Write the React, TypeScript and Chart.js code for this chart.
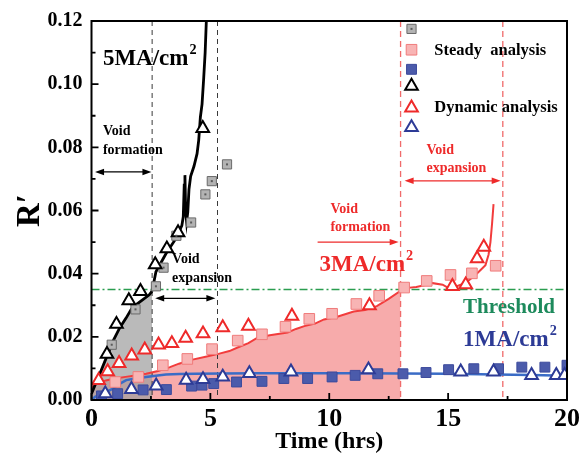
import React, { useEffect, useRef } from 'react';
import { Chart, registerables } from 'chart.js';
import { drawPoint } from 'chart.js/helpers';

Chart.register(...registerables);

const SERIF = "'Liberation Serif', 'Times New Roman', serif";

// ---- axes ----
const xTickValues = [0, 5, 10, 15, 20];
const yTickValues = [0, 0.02, 0.04, 0.06, 0.08, 0.1, 0.12];
const threshold = 0.035;

// stage boundaries (hrs)
const voidFormationEnd5MA = 2.55;
const voidExpansionEnd5MA = 5.3;
const voidFormationEnd3MA = 13.0;
const voidExpansionEnd3MA = 17.3;

// ---- 5 MA/cm2 ----
const t5Line = [0, 0.35, 0.63, 0.91, 1.19, 1.46, 1.67, 1.88, 2.16, 2.43, 2.55, 2.71, 3.13, 3.54, 3.8, 3.86, 3.9, 3.93, 3.96, 4.0, 4.05, 4.1, 4.17, 4.31, 4.44, 4.51, 4.58, 4.65, 4.72, 4.78, 4.83];
const r5Line = [0.002, 0.0083, 0.0135, 0.0187, 0.0229, 0.026, 0.0287, 0.0302, 0.0318, 0.0333, 0.0345, 0.0406, 0.0463, 0.051, 0.0552, 0.058, 0.068, 0.0712, 0.06, 0.0565, 0.0595, 0.0667, 0.0708, 0.074, 0.078, 0.0823, 0.0896, 0.0937, 0.102, 0.11, 0.12];
const t5Steady = [0.85, 1.85, 2.71, 3.03, 3.57, 4.19, 4.79, 5.06, 5.7];
const r5Steady = [0.0175, 0.0287, 0.036, 0.0419, 0.052, 0.0562, 0.0651, 0.0693, 0.0746];
const t5Dynamic = [0.65, 1.05, 1.57, 2.06, 2.68, 3.17, 3.64, 4.68];
const r5Dynamic = [0.0145, 0.024, 0.0315, 0.0344, 0.0429, 0.0479, 0.053, 0.086];

// ---- 3 MA/cm2 ----
const t3Line = [0, 0.2, 0.6, 1.0, 1.5, 2.0, 2.3, 2.8, 3.3, 3.68, 4.2, 4.8, 5.34, 5.8, 6.17, 6.6, 7.0, 7.5, 8.25, 8.6, 8.95, 9.4, 9.78, 10.3, 11.03, 11.5, 12.0, 12.5, 13.0, 13.3, 13.66, 14.0, 14.35, 14.77, 15.0, 15.18, 15.35, 15.53, 15.8, 16.15, 16.29, 16.57, 16.7, 16.78, 16.85, 16.91];
const r3Line = [0.004, 0.0052, 0.0062, 0.0068, 0.0074, 0.0079, 0.0083, 0.0092, 0.0104, 0.0115, 0.0127, 0.0137, 0.0146, 0.0155, 0.0167, 0.018, 0.0198, 0.0205, 0.0214, 0.0225, 0.0234, 0.0242, 0.0255, 0.0263, 0.028, 0.0285, 0.0297, 0.032, 0.0346, 0.0355, 0.0358, 0.0363, 0.037, 0.0365, 0.0355, 0.0349, 0.036, 0.0365, 0.0375, 0.0396, 0.0406, 0.0427, 0.046, 0.05, 0.056, 0.062];
const t3Steady = [1.0, 1.97, 3.0, 4.03, 5.07, 6.15, 7.17, 8.16, 9.16, 10.12, 11.14, 12.1, 13.15, 14.1, 15.1, 16.0, 17.0];
const r3Steady = [0.0057, 0.0073, 0.011, 0.013, 0.0161, 0.0188, 0.0208, 0.0232, 0.0257, 0.0273, 0.0304, 0.033, 0.0356, 0.0377, 0.0396, 0.0401, 0.0425];
const t3Dynamic = [0.3, 0.68, 1.16, 1.69, 2.24, 2.82, 3.38, 3.96, 4.69, 5.52, 6.6, 8.43, 11.69, 15.18, 15.74, 16.22, 16.5];
const r3Dynamic = [0.0062, 0.009, 0.0116, 0.014, 0.0159, 0.0175, 0.0179, 0.0196, 0.021, 0.0229, 0.0234, 0.0266, 0.0299, 0.036, 0.0365, 0.0448, 0.0484];

// ---- 1 MA/cm2 ----
const t1Line = [0, 0.15, 0.5, 0.91, 1.2, 1.46, 1.9, 2.3, 2.7, 3.13, 3.7, 4.37, 5.5, 7.0, 9.0, 11.0, 13.0, 15.0, 17.0, 18.5, 20];
const r1Line = [0, 0.001, 0.0022, 0.0036, 0.0052, 0.0063, 0.0069, 0.0073, 0.0077, 0.0081, 0.0082, 0.0083, 0.0084, 0.0085, 0.0085, 0.0085, 0.0084, 0.0083, 0.0081, 0.0079, 0.0077];
const t1Steady = [0.42, 1.1, 2.17, 3.15, 4.21, 4.65, 5.14, 6.1, 7.17, 8.09, 9.09, 10.12, 11.09, 12.04, 13.1, 14.07, 15.02, 16.08, 17.12, 18.1, 19.07, 20.0];
const r1Steady = [0.0013, 0.002, 0.0032, 0.0033, 0.0044, 0.0047, 0.0052, 0.0057, 0.0059, 0.0068, 0.0068, 0.0073, 0.0078, 0.0083, 0.0083, 0.0087, 0.0096, 0.0099, 0.0099, 0.0104, 0.0104, 0.011];
const t1Dynamic = [0.58, 1.68, 2.72, 3.98, 4.69, 5.52, 6.64, 8.39, 11.65, 15.53, 16.91, 18.51, 19.55, 19.9];
const r1Dynamic = [0.002, 0.0034, 0.0045, 0.0063, 0.0065, 0.0073, 0.0084, 0.0089, 0.0096, 0.0089, 0.0089, 0.0078, 0.0078, 0.0078];

// ---- colours ----
const BLACK = '#000000';
const RED = '#ee2a2a';
const RED_LINE = '#f23c3c';
const PINK_FILL = '#f7abab';
const GRAY_FILL = 'rgba(160,160,160,0.72)';
const BLUE_LINE = '#3a6cc6';
const BLUE_DARK = '#2d3b96';
const GREEN = '#2a9d4f';
const GREEN_TEXT = '#1d8a5c';

const pts = (xs: number[], ys: number[]) => xs.map((x, i) => ({ x, y: ys[i] }));
const TRANSPARENT = 'rgba(0,0,0,0)';

const grayStyle = { pointStyle: 'rect', radius: 6.5, bg: '#b3b3b3', border: '#6a6a6a', bw: 1 };
const pinkStyle = { pointStyle: 'rect', radius: 7.5, bg: '#f8b4b4', border: '#f07c7c', bw: 1 };
const blueSqStyle = { pointStyle: 'rect', radius: 7, bg: '#4b5bab', border: '#3c4a9c', bw: 1 };
const blackTriStyle = { pointStyle: 'triangle', radius: 7.3, bg: '#ffffff', border: BLACK, bw: 2 };
const redTriStyle = { pointStyle: 'triangle', radius: 7.3, bg: '#ffffff', border: RED, bw: 2 };
const blueTriStyle = { pointStyle: 'triangle', radius: 7.3, bg: '#ffffff', border: BLUE_DARK, bw: 2 };

const markerSet = (label: string, data: any[], s: any, order: number) => ({
  label,
  data,
  showLine: false,
  pointStyle: s.pointStyle,
  pointRadius: s.radius,
  pointBackgroundColor: s.bg,
  pointBorderColor: s.border,
  pointBorderWidth: s.bw,
  order,
});

function font(size: number) {
  return `bold ${size}px ${SERIF}`;
}

function label(ctx: CanvasRenderingContext2D, str: string, x: number, y: number, size: number, color: string) {
  ctx.font = font(size);
  ctx.fillStyle = color;
  ctx.textAlign = 'left';
  ctx.textBaseline = 'middle';
  ctx.fillText(str, x, y);
}

// current-density label with superscript 2
function densityLabel(ctx: CanvasRenderingContext2D, base: string, x: number, y: number, size: number, color: string) {
  label(ctx, base, x, y, size, color);
  const w = ctx.measureText(base).width;
  label(ctx, '2', x + w + 1, y - size * 0.38, size * 0.62, color);
}

function arrow(ctx: CanvasRenderingContext2D, x1: number, x2: number, y: number, color: string, both: boolean) {
  ctx.strokeStyle = color;
  ctx.fillStyle = color;
  ctx.lineWidth = 1.2;
  ctx.setLineDash([]);
  ctx.beginPath();
  ctx.moveTo(x1 + (both ? 4 : 0), y);
  ctx.lineTo(x2 - 4, y);
  ctx.stroke();
  const head = (tip: number, dir: number) => {
    ctx.beginPath();
    ctx.moveTo(tip, y);
    ctx.lineTo(tip - dir * 9, y - 3.2);
    ctx.lineTo(tip - dir * 9, y + 3.2);
    ctx.closePath();
    ctx.fill();
  };
  head(x2, 1);
  if (both) head(x1, -1);
}

const decorations = {
  id: 'decorations',
  beforeDatasetsDraw(chart: any) {
    const { ctx, chartArea: a, scales } = chart;
    const xs = scales.x;
    const ys = scales.y;
    ctx.save();
    const vline = (v: number, color: string, dash: number[], lw: number) => {
      const px = xs.getPixelForValue(v);
      ctx.strokeStyle = color;
      ctx.lineWidth = lw;
      ctx.setLineDash(dash);
      ctx.beginPath();
      ctx.moveTo(px, a.top);
      ctx.lineTo(px, a.bottom);
      ctx.stroke();
    };
    vline(voidFormationEnd5MA, '#3a3a3a', [5, 4], 1);
    vline(voidExpansionEnd5MA, '#3a3a3a', [5, 4], 1);
    vline(voidFormationEnd3MA, '#f06a6a', [6, 4], 1.3);
    vline(voidExpansionEnd3MA, '#f06a6a', [6, 4], 1.3);

    // threshold
    const ty = ys.getPixelForValue(threshold);
    ctx.strokeStyle = GREEN;
    ctx.lineWidth = 1.5;
    ctx.setLineDash([8, 3, 2, 3]);
    ctx.beginPath();
    ctx.moveTo(a.left, ty);
    ctx.lineTo(a.right, ty);
    ctx.stroke();
    ctx.restore();
  },
  afterDatasetsDraw(chart: any) {
    const { ctx, scales } = chart;
    const X = (v: number) => scales.x.getPixelForValue(v);
    const Y = (v: number) => scales.y.getPixelForValue(v);
    ctx.save();

    // centre dot on the 5 MA/cm2 steady markers
    const meta = chart.getDatasetMeta(3);
    ctx.fillStyle = '#5a5a5a';
    meta.data.forEach((el: any) => ctx.fillRect(el.x - 1, el.y - 1, 2, 2));

    // current density labels
    densityLabel(ctx, '5MA/cm', X(0.48), Y(0.108), 23, BLACK);
    densityLabel(ctx, '3MA/cm', X(9.59), Y(0.0428), 23, RED);
    densityLabel(ctx, '1MA/cm', X(15.63), Y(0.0191), 23, BLUE_DARK);
    label(ctx, 'Threshold', X(15.63), Y(0.0294), 21, GREEN_TEXT);

    // stage annotations, 5 MA/cm2
    label(ctx, 'Void', X(0.48), Y(0.085), 14, BLACK);
    label(ctx, 'formation', X(0.48), Y(0.079), 14, BLACK);
    arrow(ctx, X(0.15), X(2.52), Y(0.0722), BLACK, true);
    label(ctx, 'Void', X(3.39), Y(0.0444), 14, BLACK);
    label(ctx, 'expansion', X(3.39), Y(0.0384), 14, BLACK);
    arrow(ctx, X(2.68), X(5.21), Y(0.0322), BLACK, true);

    // stage annotations, 3 MA/cm2
    label(ctx, 'Void', X(10.05), Y(0.0603), 14, RED);
    label(ctx, 'formation', X(10.05), Y(0.0547), 14, RED);
    arrow(ctx, X(9.51), X(12.92), Y(0.05), RED, false);
    label(ctx, 'Void', X(14.09), Y(0.079), 14, RED);
    label(ctx, 'expansion', X(14.09), Y(0.0734), 14, RED);
    arrow(ctx, X(13.17), X(17.21), Y(0.0694), RED, true);

    // legend
    const legendMarkers = [
      [grayStyle, 0.1175],
      [pinkStyle, 0.1109],
      [blueSqStyle, 0.1047],
      [blackTriStyle, 0.0994],
      [redTriStyle, 0.0925],
      [blueTriStyle, 0.0863],
    ];
    legendMarkers.forEach(([s, yv]: any) => {
      ctx.fillStyle = s.bg;
      ctx.strokeStyle = s.border;
      ctx.lineWidth = s.bw;
      ctx.setLineDash([]);
      drawPoint(ctx, { pointStyle: s.pointStyle, radius: s.radius, rotation: 0, borderWidth: s.bw }, X(13.46), Y(yv));
      if (s === grayStyle) {
        ctx.fillStyle = '#5a5a5a';
        ctx.fillRect(X(13.46) - 1, Y(yv) - 1, 2, 2);
      }
    });
    label(ctx, 'Steady  analysis', X(14.42), Y(0.1106), 16.5, BLACK);
    label(ctx, 'Dynamic analysis', X(14.42), Y(0.0925), 16.5, BLACK);
    ctx.restore();
  },
  afterDraw(chart: any) {
    const { ctx, chartArea: a, scales } = chart;
    ctx.save();
    ctx.setLineDash([]);
    ctx.strokeStyle = BLACK;
    ctx.lineWidth = 2;
    ctx.strokeRect(a.left, a.top, a.right - a.left, a.bottom - a.top);
    // inward ticks
    ctx.lineWidth = 1.8;
    ctx.beginPath();
    for (let i = 0; i <= 12; i++) {
      const v = i * 0.01;
      const py = scales.y.getPixelForValue(v);
      const len = i % 2 === 0 ? 7 : 4;
      ctx.moveTo(a.left, py);
      ctx.lineTo(a.left + len, py);
    }
    for (let i = 0; i <= 8; i++) {
      const v = i * 2.5;
      const px = scales.x.getPixelForValue(v);
      const len = i % 2 === 0 ? 7 : 4;
      ctx.moveTo(px, a.bottom);
      ctx.lineTo(px, a.bottom - len);
    }
    ctx.stroke();
    ctx.restore();
  },
};

export default function App() {
  const canvasRef = useRef<HTMLCanvasElement | null>(null);

  useEffect(() => {
    document.body.style.margin = '0';
    const canvas = canvasRef.current;
    if (!canvas) return;

    const chart = new Chart(canvas, {
      type: 'scatter',
      data: {
        datasets: [
          {
            label: '3MA/cm2 fit',
            data: pts(t3Line, r3Line),
            showLine: true,
            borderColor: RED_LINE,
            borderWidth: 2,
            pointRadius: 0,
            fill: 'origin',
            backgroundColor: PINK_FILL,
            segment: {
              backgroundColor: (c: any) => (c.p0.parsed.x < voidFormationEnd3MA ? PINK_FILL : TRANSPARENT),
            },
            order: 30,
          } as any,
          {
            label: '5MA/cm2 fit',
            data: pts(t5Line, r5Line),
            showLine: true,
            borderColor: BLACK,
            borderWidth: 2.8,
            pointRadius: 0,
            fill: 'origin',
            backgroundColor: GRAY_FILL,
            segment: {
              backgroundColor: (c: any) => (c.p0.parsed.x < voidFormationEnd5MA ? GRAY_FILL : TRANSPARENT),
            },
            order: 29,
          } as any,
          {
            label: '1MA/cm2 fit',
            data: pts(t1Line, r1Line),
            showLine: true,
            borderColor: BLUE_LINE,
            borderWidth: 2.5,
            pointRadius: 0,
            order: 28,
          } as any,
          markerSet('5MA steady', pts(t5Steady, r5Steady), grayStyle, 19),
          markerSet('3MA steady', pts(t3Steady, r3Steady), pinkStyle, 20),
          markerSet('1MA steady', pts(t1Steady, r1Steady), blueSqStyle, 18),
          markerSet('5MA dynamic', pts(t5Dynamic, r5Dynamic), blackTriStyle, 9),
          markerSet('3MA dynamic', pts(t3Dynamic, r3Dynamic), redTriStyle, 10),
          markerSet('1MA dynamic', pts(t1Dynamic, r1Dynamic), blueTriStyle, 8),
        ] as any,
      },
      options: {
        responsive: false,
        animation: false,
        events: [],
        layout: { padding: { top: 16, right: 12, left: 0, bottom: 0 } },
        plugins: {
          legend: { display: false },
          tooltip: { enabled: false },
          filler: { drawTime: 'beforeDatasetsDraw' },
        } as any,
        scales: {
          x: {
            type: 'linear',
            min: 0,
            max: 20,
            afterBuildTicks: (s: any) => {
              s.ticks = xTickValues.map((v) => ({ value: v }));
            },
            afterFit: (s: any) => {
              s.height = 64;
            },
            grid: { display: false, drawTicks: false },
            border: { display: false },
            ticks: {
              padding: 4,
              color: BLACK,
              font: { family: SERIF, size: 26, weight: 'bold' },
              maxRotation: 0,
              callback: (v: any) => String(v),
            },
            title: {
              display: true,
              text: 'Time (hrs)',
              color: BLACK,
              font: { family: SERIF, size: 24, weight: 'bold' },
              padding: { top: 0, bottom: 8 },
            },
          },
          y: {
            type: 'linear',
            min: 0,
            max: 0.12,
            afterBuildTicks: (s: any) => {
              s.ticks = yTickValues.map((v) => ({ value: v }));
            },
            afterFit: (s: any) => {
              s.width = 91.5;
            },
            grid: { display: false, drawTicks: false },
            border: { display: false },
            ticks: {
              padding: 9,
              color: BLACK,
              font: { family: SERIF, size: 20, weight: 'bold' },
              callback: (v: any) => Number(v).toFixed(2),
            },
            title: {
              display: true,
              text: 'R\u2032',
              color: BLACK,
              font: { family: SERIF, size: 33, weight: 'bold' },
              padding: { top: 11, bottom: 0 },
            },
          },
        },
      } as any,
      plugins: [decorations as any],
    });

    return () => chart.destroy();
  }, []);

  return (
    <div style={{ width: 584, height: 464, background: '#ffffff' }}>
      <canvas ref={canvasRef} width={584} height={464} style={{ width: 584, height: 464, display: 'block' }} />
    </div>
  );
}
